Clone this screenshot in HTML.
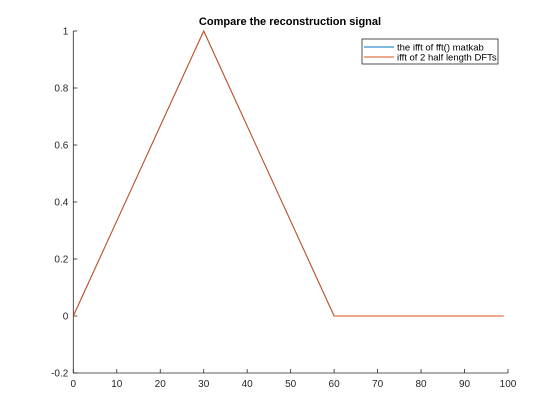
<!DOCTYPE html>
<html><head><meta charset="utf-8"><style>
body{margin:0;background:#fff;}
svg{display:block;font-family:"Liberation Sans",sans-serif;}
</style></head><body>
<svg id="chart" width="560" height="420">
<rect width="560" height="420" fill="#fff"/>
<text x="290" y="25" text-anchor="middle" font-size="11" font-weight="bold">Compare the reconstruction signal</text>
<g id="axes"></g>
<g id="series"></g>
<g>
<rect x="362" y="39" width="136" height="25" fill="#fff" stroke="#262626" stroke-width="0.8"/>
<line x1="364" y1="47" x2="394" y2="47" stroke="#0072bd" stroke-width="1"/>
<text x="397" y="50.5" font-size="9.5" fill="#000">the ifft of fft() matkab</text>
<line x1="364" y1="57" x2="394" y2="57" stroke="#d95319" stroke-width="1"/>
<text x="397" y="60.5" font-size="9.5" fill="#000">ifft of 2 half length DFTs</text>
</g>
</svg>
<script>
const xTicks=[0,10,20,30,40,50,60,70,80,90,100];
const yTicks=[-0.2,0,0.2,0.4,0.6,0.8,1];
const xData=[0,30,60,99];
const series1=[0,1,0,0];
const series2=[0,1,0,0];
const X0=73.3,X1=508,Y0=373,Y1=31;
const sx=v=>X0+(v-0)/(100-0)*(X1-X0);
const sy=v=>Y0-(v+0.2)/(1.2)*(Y0-Y1);
const NS="http://www.w3.org/2000/svg";
const ax=document.getElementById('axes');
function mk(t,a,p){const e=document.createElementNS(NS,t);for(const k in a)e.setAttribute(k,a[k]);p.appendChild(e);return e;}
const xa=mk('line',{x1:X0,y1:Y0,x2:X1,y2:Y0,stroke:'#262626','stroke-width':0.8},ax);


const ya=mk('line',{x1:X0,y1:Y0,x2:X0,y2:Y1,stroke:'#262626','stroke-width':0.8},ax);


xTicks.forEach(v=>{
 const t=mk('line',{x1:sx(v),y1:Y0,x2:sx(v),y2:Y0-4,stroke:'#262626','stroke-width':0.8},ax);
 
 
 const l=mk('text',{x:sx(v),y:Y0+14,'text-anchor':'middle','font-size':10,fill:'#262626'},ax);
 l.textContent=v;
 
 
});
yTicks.forEach(v=>{
 const t=mk('line',{x1:X0,y1:sy(v),x2:X0+4,y2:sy(v),stroke:'#262626','stroke-width':0.8},ax);
 
 
 const l=mk('text',{x:X0-5,y:sy(v)+3.5,'text-anchor':'end','font-size':10,fill:'#262626'},ax);
 l.textContent=String(Math.round(v*10)/10);
 
 
});
const sg=document.getElementById('series');
const p1=mk('polyline',{points:xData.map((x,i)=>sx(x)+','+sy(series1[i])).join(' '),fill:'none',stroke:'#0072bd','stroke-width':1},sg);


const p2=mk('polyline',{points:xData.map((x,i)=>sx(x)+','+sy(series2[i])).join(' '),fill:'none',stroke:'#d95319','stroke-width':1},sg);


</script>
</body></html>
